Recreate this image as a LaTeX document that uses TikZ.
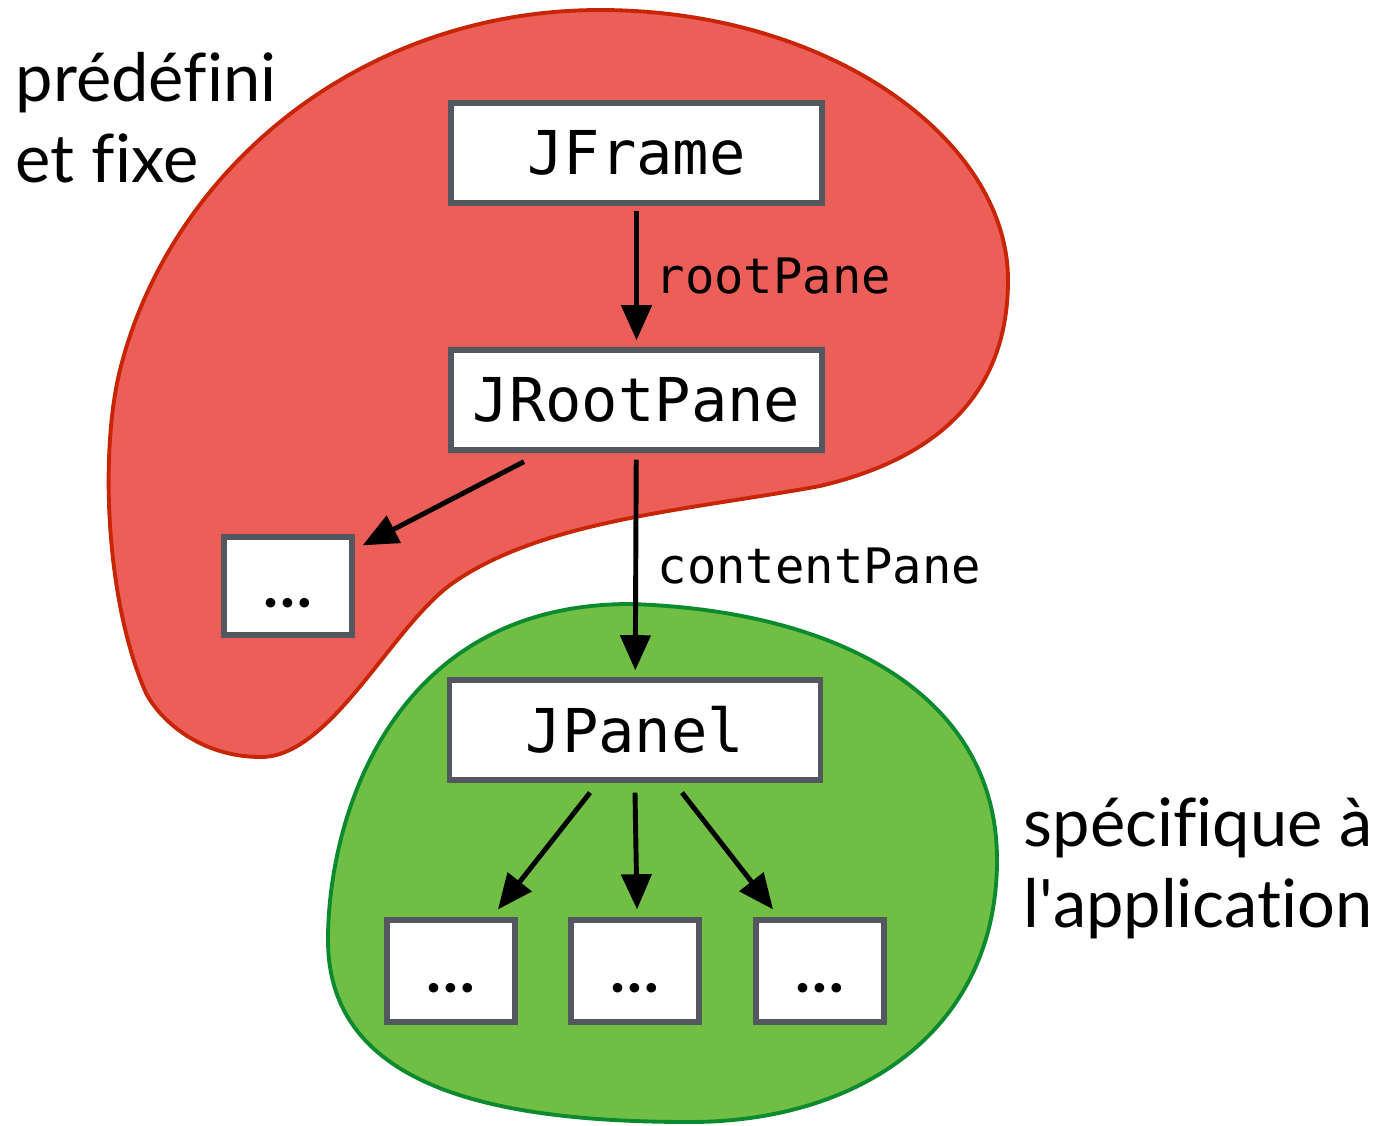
\documentclass[tikz,border=0pt]{standalone}
\usepackage{fontspec}
\setmainfont{Lato}[Ligatures={NoCommon,NoRare}]
\setmonofont{DejaVu Sans Mono}
\usetikzlibrary{arrows.meta}

\definecolor{rougeFond}{HTML}{EC5E58}
\definecolor{rougeTrait}{HTML}{C82506}
\definecolor{vertFond}{HTML}{70BF44}
\definecolor{vertTrait}{HTML}{0B8A2E}
\definecolor{grisBord}{HTML}{53585F}

\begin{document}
\begin{tikzpicture}
    \tikzset{classe/.style = {shape=rectangle,draw=grisBord,fill=white,line width=1.5pt,minimum width=3.71cm,minimum height=1cm,font=\ttfamily\fontsize{17.2}{20}\selectfont}}
    \tikzset{petit/.style = {classe,minimum width=1.28cm,minimum height=0.98cm,text height=12pt,text depth=0pt,font=\bfseries\fontsize{18}{20}\selectfont}}
    \tikzset{champ/.style = {anchor=base west,inner sep=0,font=\ttfamily\fontsize{13.9}{16}\selectfont}}
    \tikzset{remarque/.style = {anchor=north west,align=left,inner sep=0,font=\fontsize{19}{23}\selectfont}}

    \tikzset{zone/.style = {line width=1.1pt}}
    \tikzset{fleche/.style = {-{Triangle[length=10pt,width=8.5pt]},line width=1.4pt}}

    \useasboundingbox (0,0) rectangle (13.74,-11.25);

    % zone predefinie
    \draw[zone,fill=rougeFond,draw=rougeTrait] (6.00,-0.10)
        .. controls (8.30,-0.10) and (10.08,-1.40) .. (10.08,-2.80)
        .. controls (10.08,-4.00) and (9.30,-4.60) .. (8.20,-4.86)
        .. controls (6.90,-5.10) and (5.40,-5.20) .. (4.50,-5.85)
        .. controls (3.90,-6.30) and (3.30,-7.57) .. (2.61,-7.57)
        .. controls (2.00,-7.57) and (1.60,-7.20) .. (1.46,-6.93)
        .. controls (1.05,-6.00) and (1.00,-4.50) .. (1.20,-3.70)
        .. controls (1.70,-1.70) and (3.60,-0.10) .. cycle;

    % zone application
    \draw[zone,fill=vertFond,draw=vertTrait] (6.30,-6.04)
        .. controls (8.30,-6.10) and (9.97,-6.90) .. (9.97,-8.60)
        .. controls (9.97,-10.30) and (8.60,-11.22) .. (6.90,-11.22)
        .. controls (5.00,-11.22) and (3.28,-10.90) .. (3.28,-9.40)
        .. controls (3.28,-8.20) and (3.90,-6.04) .. cycle;

    \node[remarque] (notePredef) at (0.15,-0.52) {prédéfini\\et fixe};
    \node[remarque] (noteAppli) at (10.23,-7.97) {spécifique à\\l\textquotesingle application};

    \node[classe] (jframe) at (6.365,-1.53) {JFrame};
    \node[classe] (jroot) at (6.365,-4.00) {JRootPane};
    \node[petit] (autre) at (2.88,-5.86) {…};
    \node[classe] (jpanel) at (6.35,-7.30) {JPanel};
    \node[petit,minimum height=1.02cm] (compA) at (4.51,-9.71) {…};
    \node[petit,minimum height=1.02cm] (compB) at (6.35,-9.71) {…};
    \node[petit,minimum height=1.02cm] (compC) at (8.20,-9.71) {…};

    \draw[fleche,shorten <=1.5pt,shorten >=2pt] (jframe) -- (jroot);
    \node[champ] (lblRoot) at (6.55,-2.93) {rootPane};

    \draw[fleche,shorten <=2pt,shorten >=2pt] (jroot) -- (jpanel);
    \node[champ] (lblContent) at (6.57,-5.83) {contentPane};

    \draw[fleche] ([xshift=-1.125cm,yshift=-0.09cm]jroot.south) -- ([xshift=0.08cm,yshift=-0.11cm]autre.north east);

    \draw[fleche] ([xshift=-0.45cm,yshift=-0.10cm]jpanel.south) -- ([xshift=0.47cm,yshift=0.08cm]compA.north);
    \draw[fleche] ([yshift=-0.10cm]jpanel.south) -- ([xshift=0.02cm,yshift=0.08cm]compB.north);
    \draw[fleche] ([xshift=0.47cm,yshift=-0.10cm]jpanel.south) -- ([xshift=-0.47cm,yshift=0.08cm]compC.north);

\end{tikzpicture}
\end{document}
